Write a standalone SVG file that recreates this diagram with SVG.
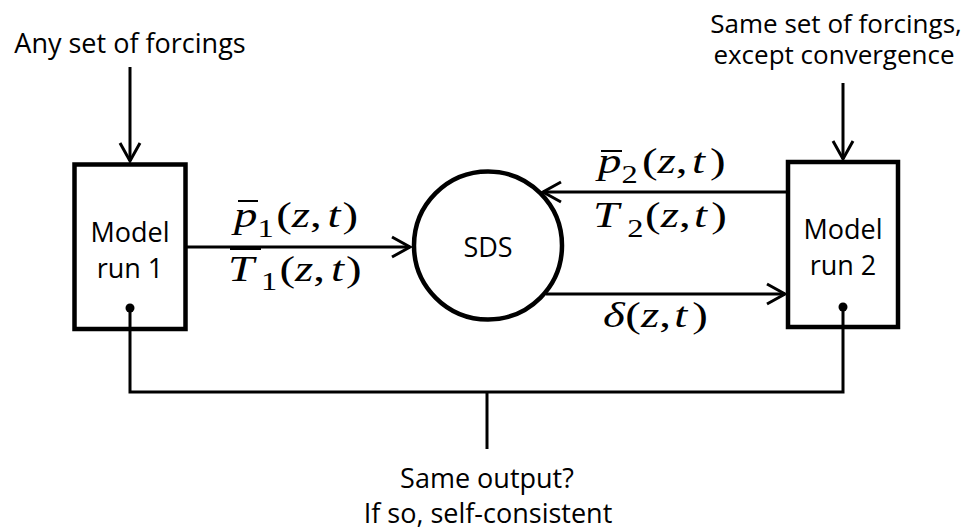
<svg xmlns="http://www.w3.org/2000/svg" width="975" height="531" viewBox="0 0 975 531">
<style>
.s{font-family:"Open Sans","Liberation Sans",sans-serif;font-size:27px;fill:#000}
.s2{font-family:"Open Sans","Liberation Sans",sans-serif;font-size:26px;fill:#000}
.m{font-family:"Liberation Serif","DejaVu Serif",serif;font-size:36px;fill:#000}
.i{font-style:italic}
.sub{font-size:25px;font-style:normal}
.box{fill:#fff;stroke:#000;stroke-width:4.5;stroke-linejoin:miter}
.ln{fill:none;stroke:#000;stroke-width:3}
.bar{stroke:#000;stroke-width:2}
</style>
<defs>
<marker id="arr" markerUnits="userSpaceOnUse" markerWidth="30" markerHeight="30" viewBox="-25 -15 30 30" refX="0" refY="0" orient="auto" overflow="visible">
<path d="M-18,-10 L0,0 L-18,10" fill="none" stroke="#000" stroke-width="3"/>
</marker>
</defs>
<rect width="975" height="531" fill="#fff"/>

<g id="model1">
<rect class="box" x="74.5" y="164.5" width="111" height="164.5"/>
<text class="s" x="130" y="242" text-anchor="middle">Model</text>
<text class="s" x="130" y="278" text-anchor="middle">run 1</text>
<circle cx="130" cy="308" r="4.5" fill="#000"/>
</g>

<g id="sds">
<circle cx="488" cy="245.5" r="74" fill="#fff" stroke="#000" stroke-width="4.5"/>
<text class="s" x="488" y="257" text-anchor="middle">SDS</text>
</g>

<g id="model2">
<rect class="box" x="788" y="162" width="110" height="165"/>
<text class="s" x="843" y="239" text-anchor="middle">Model</text>
<text class="s" x="843" y="275" text-anchor="middle">run 2</text>
<circle cx="843" cy="307" r="4.5" fill="#000"/>
</g>

<g id="connectors">
<line class="ln" x1="130" y1="67" x2="130" y2="161" marker-end="url(#arr)"/>
<line class="ln" x1="843" y1="83" x2="843" y2="159" marker-end="url(#arr)"/>
<line class="ln" x1="187" y1="247" x2="410" y2="247" marker-end="url(#arr)"/>
<line class="ln" x1="786" y1="192" x2="543" y2="192" marker-end="url(#arr)"/>
<line class="ln" x1="546" y1="294" x2="785" y2="294" marker-end="url(#arr)"/>
<polyline class="ln" points="130,308 130,392 843,392 843,307"/>
<line class="ln" x1="487" y1="392" x2="487" y2="449"/>
</g>

<g id="label-forcing1">
<text class="s" x="130" y="53" text-anchor="middle">Any set of forcings</text>
</g>
<g id="label-forcing2">
<text class="s2" x="836" y="33" text-anchor="middle">Same set of forcings,</text>
<text class="s2" x="834" y="64" text-anchor="middle">except convergence</text>
</g>
<g id="label-output">
<text class="s" x="487" y="488" text-anchor="middle">Same output?</text>
<text class="s" x="488" y="523" text-anchor="middle">If so, self-consistent</text>
</g>

<g id="label-p1T1">
<line class="bar" x1="238" y1="201" x2="258" y2="201"/>
<text class="m" transform="scale(1.3,1)" x="180" y="227"><tspan class="i">p</tspan><tspan class="sub" dy="10">1</tspan><tspan dy="-10" dx="2">(</tspan><tspan class="i">z</tspan>,<tspan class="i" dx="4.5">t</tspan><tspan dx="1.5">)</tspan></text>
<line class="bar" x1="230" y1="249" x2="261" y2="249"/>
<text class="m" transform="scale(1.3,1)" x="175.4" y="281"><tspan class="i">T</tspan><tspan class="sub" dy="9" dx="5.4">1</tspan><tspan dy="-9" dx="1.7">(</tspan><tspan class="i">z</tspan>,<tspan class="i" dx="4.6">t</tspan><tspan dx="1.5">)</tspan></text>
</g>

<g id="label-p2T2">
<line class="bar" x1="601" y1="151" x2="622" y2="151"/>
<text class="m" transform="scale(1.3,1)" x="460" y="173"><tspan class="i">p</tspan><tspan class="sub" dy="10">2</tspan><tspan dy="-10" dx="3.3">(</tspan><tspan class="i">z</tspan>,<tspan class="i" dx="3.5">t</tspan><tspan dx="3.8">)</tspan></text>
<text class="m" transform="scale(1.3,1)" x="456.2" y="227"><tspan class="i">T</tspan><tspan class="sub" dy="10" dx="6.2">2</tspan><tspan dy="-10" dx="1.3">(</tspan><tspan class="i">z</tspan>,<tspan class="i" dx="2.7">t</tspan><tspan dx="3.1">)</tspan></text>
</g>

<g id="label-delta">
<text class="m" transform="scale(1.3,1)" x="463.8" y="327"><tspan class="i">δ</tspan><tspan dx="0.5">(</tspan><tspan class="i">z</tspan>,<tspan class="i" dx="2.7">t</tspan><tspan dx="3.8">)</tspan></text>
</g>
</svg>
